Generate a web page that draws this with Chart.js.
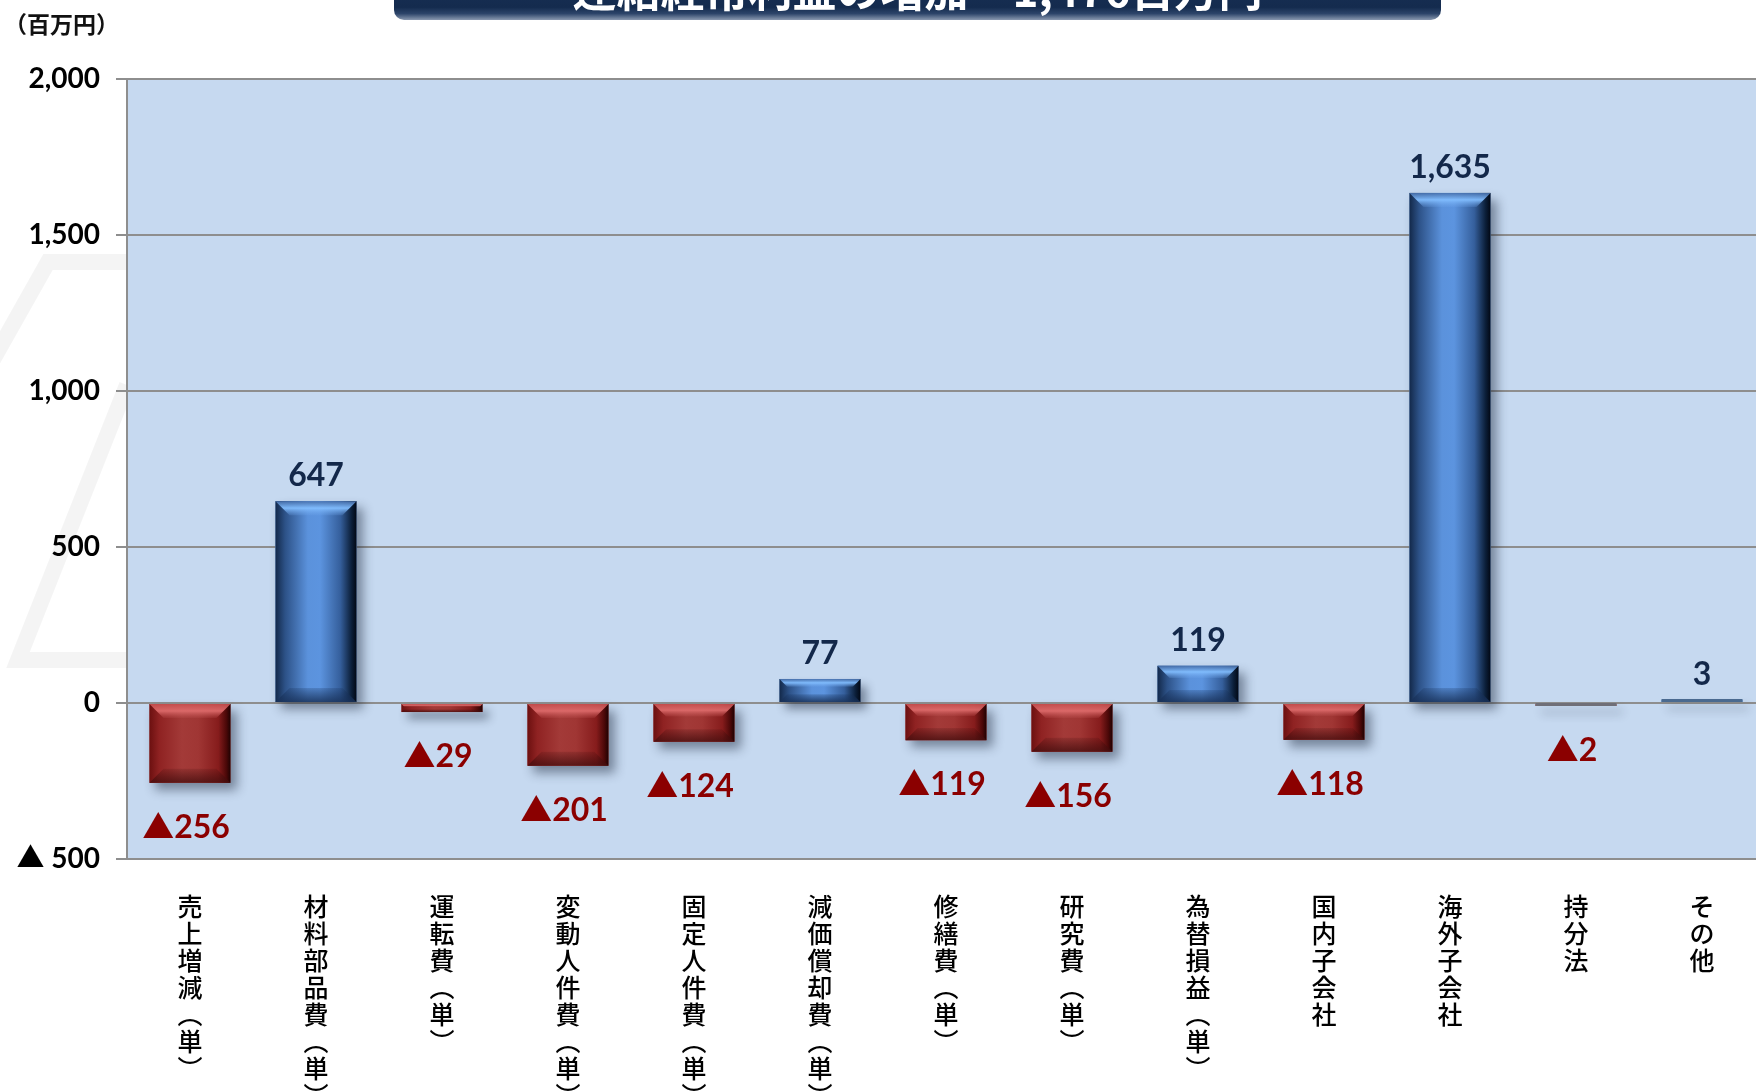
<!DOCTYPE html>
<html lang="ja">
<head>
<meta charset="UTF-8">
<title>連結経常利益の増加</title>
<script src="https://cdn.jsdelivr.net/npm/chart.js@4.4.1/dist/chart.umd.min.js"></script>
<style>
  html, body { margin: 0; padding: 0; background: #fff; overflow: hidden; width: 1756px; height: 1091px; }
  #wrap { position: absolute; left: 0; top: 0; width: 1766px; height: 1091px; }
  #unit { position: absolute; left: 4px; top: 6px; font: bold 23px 'Noto Sans CJK JP', sans-serif; color: #111; }
  #title {
    position: absolute; left: 394px; top: -44px; width: 1047px; height: 64px;
    border-radius: 10px;
    background: linear-gradient(to bottom, #1d355c 0%, #142b4e 80%, #2c4469 90%, #8a99b0 100%);
    color: #fff; font: bold 44px 'Noto Sans CJK JP', sans-serif; text-align: center; line-height: 64px;
    overflow: hidden;
  }
</style>
</head>
<body>
<div id="wrap">
  <canvas id="chart" width="1766" height="1091"></canvas>
  <div id="title">連結経常利益の増加　1,476百万円</div>
  <div id="unit">（百万円）</div>
</div>
<script>
// 項目と増減額（百万円）
const categories = ['売上増減（単）', '材料部品費（単）', '運転費（単）', '変動人件費（単）', '固定人件費（単）',
                    '減価償却費（単）', '修繕費（単）', '研究費（単）', '為替損益（単）', '国内子会社',
                    '海外子会社', '持分法', 'その他'];
const values = [-256, 647, -29, -201, -124, 77, -119, -156, 119, -118, 1635, -2, 3];
const yTicks = [2000, 1500, 1000, 500, 0, -500];

const PLOT_BG = '#c6d9f0';

// 縦書きラベル用：括弧を縦書き用に置き換えて1文字ずつ改行
function vertical(label) {
  return Array.from(label).map(c => c === '（' ? '︵' : c === '）' ? '︶' : c);
}

function fmt(v) {
  return v < 0 ? '▲' + Math.abs(v).toLocaleString('en-US') : v.toLocaleString('en-US');
}

// 背景（ロゴの透かし＋プロット背景）
const backgroundPlugin = {
  id: 'backgroundPlugin',
  beforeDraw(chart) {
    const ctx = chart.ctx, a = chart.chartArea;
    ctx.save();
    ctx.strokeStyle = 'rgba(0,0,0,0.045)';
    ctx.lineWidth = 16;
    ctx.beginPath();
    ctx.moveTo(a.left, 262); ctx.lineTo(48, 262); ctx.lineTo(-10, 365);
    ctx.moveTo(a.left, 385); ctx.lineTo(18, 660); ctx.lineTo(a.left, 660);
    ctx.stroke();
    ctx.fillStyle = PLOT_BG;
    ctx.fillRect(a.left, a.top, a.right - a.left, a.bottom - a.top);
    ctx.restore();
  }
};

// 立体的な棒の描画（影・グラデーション・ベベル）
const bevelPlugin = {
  id: 'bevelPlugin',
  beforeDatasetsDraw(chart) {
    const ctx = chart.ctx;
    const meta = chart.getDatasetMeta(0);
    ctx.save();
    ctx.shadowColor = 'rgba(20,30,50,0.45)';
    ctx.shadowBlur = 10;
    ctx.shadowOffsetX = 6;
    ctx.shadowOffsetY = 7;
    ctx.fillStyle = PLOT_BG;
    meta.data.forEach(el => {
      const top = Math.min(el.y, el.base), bot = Math.max(el.y, el.base);
      ctx.fillRect(el.x - el.width / 2, top, el.width, Math.max(bot - top, 2));
    });
    ctx.restore();
  },
  afterDatasetsDraw(chart) {
    const ctx = chart.ctx;
    const meta = chart.getDatasetMeta(0);
    ctx.save();
    meta.data.forEach((el, i) => {
      const pos = values[i] >= 0;
      const x0 = el.x - el.width / 2, x1 = el.x + el.width / 2;
      const top = Math.min(el.y, el.base), bot = Math.max(el.y, el.base);
      const h = bot - top;
      if (h < 6) {
        ctx.fillStyle = pos ? '#4a6a90' : '#6f6f78';
        ctx.fillRect(x0, top - 1, el.width, 3);
        return;
      }
      const g = ctx.createLinearGradient(x0, 0, x1, 0);
      if (pos) {
        g.addColorStop(0, '#13294a');
        g.addColorStop(0.12, '#2d5288');
        g.addColorStop(0.4, '#5b92dc');
        g.addColorStop(0.55, '#5c94df');
        g.addColorStop(0.8, '#355f9c');
        g.addColorStop(0.94, '#0b1e38');
        g.addColorStop(1, '#020814');
      } else {
        g.addColorStop(0, '#6c1010');
        g.addColorStop(0.12, '#8f2222');
        g.addColorStop(0.4, '#a33a38');
        g.addColorStop(0.6, '#a03634');
        g.addColorStop(0.85, '#861c1c');
        g.addColorStop(0.95, '#4a0808');
        g.addColorStop(1, '#1f0202');
      }
      ctx.fillStyle = g;
      ctx.fillRect(x0, top, el.width, h);

      const bw = Math.min(14, h / 3);
      // 上面のハイライト
      const tg = ctx.createLinearGradient(0, top, 0, top + bw);
      tg.addColorStop(0, pos ? 'rgba(70,110,170,0.9)' : 'rgba(200,80,80,0.9)');
      tg.addColorStop(0.5, pos ? 'rgba(130,190,255,0.95)' : 'rgba(225,110,110,0.9)');
      tg.addColorStop(1, pos ? 'rgba(110,165,235,0.2)' : 'rgba(200,90,90,0.15)');
      ctx.fillStyle = tg;
      ctx.beginPath();
      ctx.moveTo(x0, top); ctx.lineTo(x1, top);
      ctx.lineTo(x1 - bw, top + bw); ctx.lineTo(x0 + bw, top + bw);
      ctx.closePath(); ctx.fill();
      // 下面の陰
      const bg = ctx.createLinearGradient(0, bot - bw, 0, bot);
      bg.addColorStop(0, pos ? 'rgba(20,45,85,0.2)' : 'rgba(60,10,10,0.15)');
      bg.addColorStop(1, pos ? 'rgba(25,50,90,0.85)' : 'rgba(70,15,15,0.8)');
      ctx.fillStyle = bg;
      ctx.beginPath();
      ctx.moveTo(x0, bot); ctx.lineTo(x1, bot);
      ctx.lineTo(x1 - bw, bot - bw); ctx.lineTo(x0 + bw, bot - bw);
      ctx.closePath(); ctx.fill();
    });
    ctx.restore();
  },
  afterDraw(chart) {
    const ctx = chart.ctx;
    const meta = chart.getDatasetMeta(0);
    ctx.save();
    ctx.textAlign = 'center';
    ctx.textBaseline = 'middle';
    ctx.font = "bold 32px Lato, 'Noto Sans CJK JP', sans-serif";
    meta.data.forEach((el, i) => {
      const v = values[i];
      if (v >= 0) {
        ctx.fillStyle = '#13284a';
        ctx.fillText(fmt(v), el.x, Math.min(el.y, el.base) - 25);
      } else {
        ctx.fillStyle = '#8b0000';
        ctx.fillText(fmt(v), el.x - 4, Math.max(el.y, el.base) + 45);
      }
    });
    ctx.restore();
  }
};

new Chart(document.getElementById('chart'), {
  type: 'bar',
  data: {
    labels: categories,
    datasets: [{
      data: values,
      backgroundColor: values.map(v => v >= 0 ? '#4a7cc0' : '#9a2a2a'),
      borderWidth: 0,
      barPercentage: 0.643,
      categoryPercentage: 1,
      minBarLength: 3
    }]
  },
  options: {
    responsive: false,
    animation: false,
    devicePixelRatio: 1,
    layout: { padding: { top: 79, right: 1, bottom: 0, left: 0 } },
    plugins: { legend: { display: false }, tooltip: { enabled: false } },
    scales: {
      x: {
        grid: { display: false, drawTicks: false },
        border: { display: false },
        ticks: {
          autoSkip: false, maxRotation: 0, minRotation: 0,
          padding: 34,
          color: '#000',
          font: { family: "'Noto Sans CJK JP', sans-serif", size: 25, weight: 500, lineHeight: 1.08 },
          callback: (val, idx) => vertical(categories[idx])
        },
        afterFit: s => { s.height = 232; }
      },
      y: {
        min: -500, max: 2000,
        afterBuildTicks: s => { s.ticks = yTicks.map(v => ({ value: v })); },
        grid: { color: '#8e8e8e', lineWidth: 2, tickLength: 11, drawTicks: true },
        border: { display: true, color: '#8e8e8e', width: 2 },
        ticks: {
          padding: 16,
          color: '#000',
          font: { family: "Lato, 'Noto Sans CJK JP', sans-serif", size: 28, weight: 'bold' },
          callback: v => v < 0 ? '▲ ' + Math.abs(v) : v.toLocaleString('en-US')
        },
        afterFit: s => { s.width = 127; }
      }
    }
  },
  plugins: [backgroundPlugin, bevelPlugin]
});
</script>
</body>
</html>
